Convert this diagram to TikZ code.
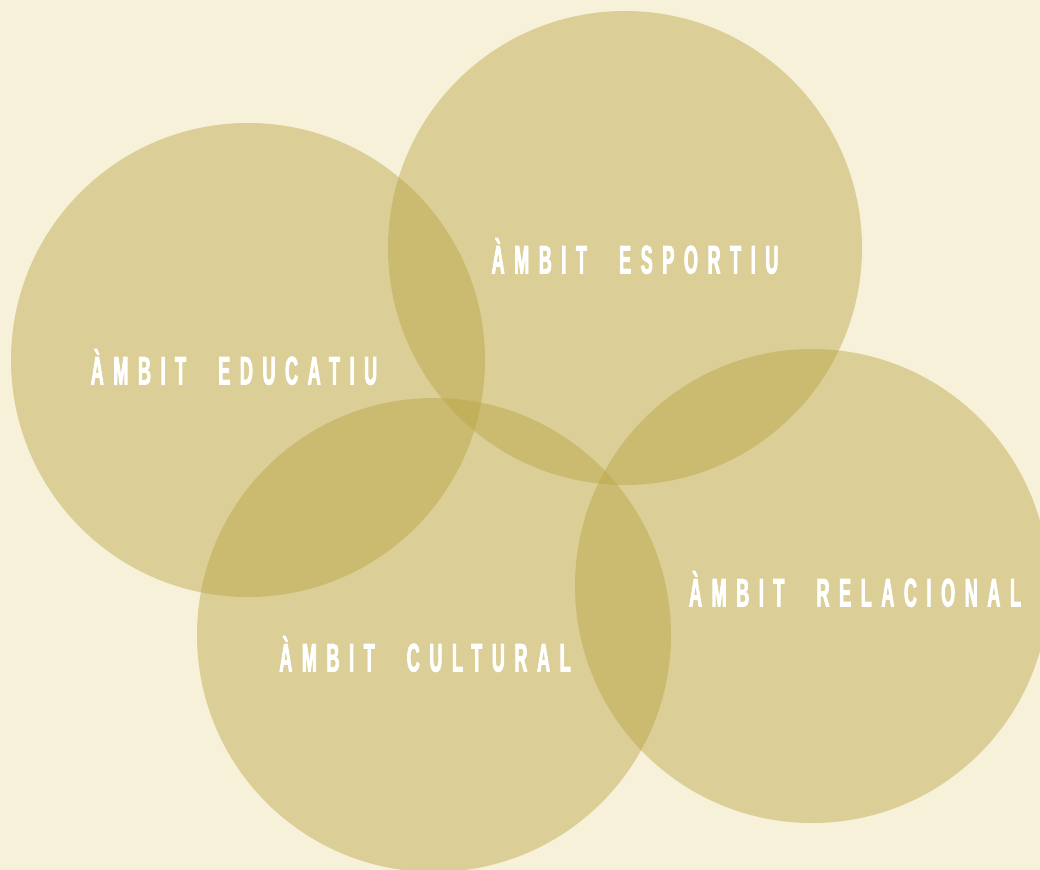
\documentclass[tikz,border=0pt]{standalone}
\usepackage{fontspec}
\usepackage{xcolor}
\usepackage{tikz}
\newfontfamily\ambitfont[FakeStretch=0.45,FakeBold=2,LetterSpace=24,WordSpace=2.2]{Liberation Sans}
\definecolor{fons}{RGB}{248,241,218}
\definecolor{ambitcolor}{RGB}{183,162,62}

\begin{document}
\begin{tikzpicture}[x=0.75pt,y=-0.75pt,
  ambit/.style={circle,fill=ambitcolor,fill opacity=0.43,minimum size=355.5pt,inner sep=0pt},
  etiqueta/.style={text=white,font=\ambitfont\bfseries\fontsize{30}{33}\selectfont,inner sep=0pt}]
  \fill[fons] (0,0) rectangle (1040,870);
  \useasboundingbox (0,0) rectangle (1040,870);
  \node[ambit] (educatiu) at (248,360) {};
  \node[ambit] (esportiu) at (625,248) {};
  \node[ambit] (cultural) at (434,635) {};
  \node[ambit] (relacional) at (812,586) {};
  \node[etiqueta] at (234,367) {ÀMBIT EDUCATIU};
  \node[etiqueta] at (635,256) {ÀMBIT ESPORTIU};
  \node[etiqueta] at (425,654) {ÀMBIT CULTURAL};
  \node[etiqueta] at (855,589) {ÀMBIT RELACIONAL};
\end{tikzpicture}
\end{document}
